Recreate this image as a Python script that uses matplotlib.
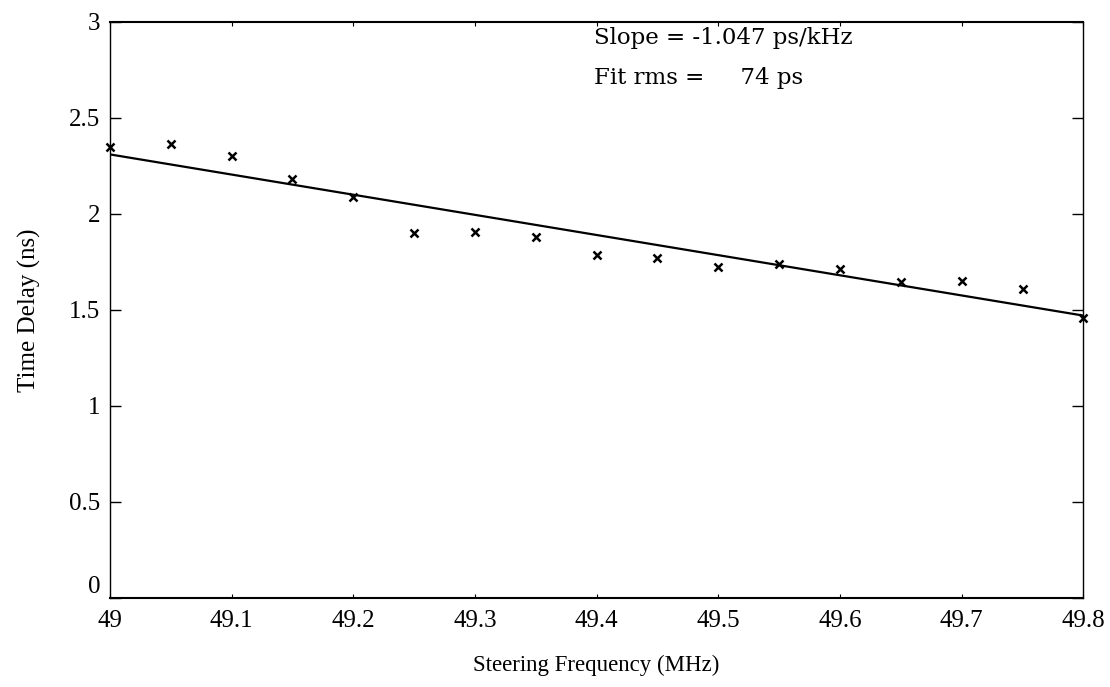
import matplotlib
matplotlib.use("Agg")
import matplotlib.pyplot as plt

plt.rcParams['font.family'] = ['Liberation Serif', 'DejaVu Serif']

# measured time delay vs steering frequency
freq = [49.0, 49.05, 49.1, 49.15, 49.2, 49.25, 49.3, 49.35, 49.4,
        49.45, 49.5, 49.55, 49.6, 49.65, 49.7, 49.75, 49.8]
delay = [2.35, 2.365, 2.30, 2.18, 2.09, 1.90, 1.905, 1.88, 1.785,
         1.77, 1.725, 1.74, 1.715, 1.645, 1.65, 1.61, 1.455]

# linear fit endpoints
fit_freq = [49.0, 49.8]
fit_delay = [2.31, 1.47]

xticks = [49, 49.1, 49.2, 49.3, 49.4, 49.5, 49.6, 49.7, 49.8]
xticklabels = ['49', '49.1', '49.2', '49.3', '49.4', '49.5', '49.6', '49.7', '49.8']
yticks = [0, 0.5, 1, 1.5, 2, 2.5, 3]
yticklabels = ['0', '0.5', '1', '1.5', '2', '2.5', '3']

fig = plt.figure(figsize=(11.1, 6.87), dpi=100)
ax = fig.add_axes([0.099, 0.130, 0.877, 0.838])

ax.plot(fit_freq, fit_delay, color='black', lw=1.6)
ax.plot(freq, delay, 'x', color='black', ms=6, mew=1.8, clip_on=False)

ax.set_xlim(49, 49.8)
ax.set_ylim(0, 3)
ax.set_xticks(xticks)
ax.set_xticklabels(xticklabels)
ax.set_yticks(yticks)
ax.set_yticklabels(yticklabels)
ax.tick_params(direction='in', top=True, right=True, labelsize=18)
ax.tick_params(axis='x', length=3, width=0.8, pad=9)
ax.tick_params(axis='y', length=8, width=1.0, pad=7)
# the zero label sits just above the axis so it clears the "49"
ax.get_yticklabels()[0].set_verticalalignment('bottom')
for side in ['top', 'bottom']:
    ax.spines[side].set_linewidth(1.5)
for side in ['left', 'right']:
    ax.spines[side].set_linewidth(1.0)

ax.set_xlabel('Steering Frequency (MHz)', fontsize=16.5, labelpad=16)
ax.set_ylabel('Time Delay (ns)', fontsize=18, labelpad=20)

ax.text(0.497, 0.972, 'Slope = -1.047 ps/kHz', transform=ax.transAxes,
        fontsize=16.5, family='DejaVu Serif', va='center', ha='left')
ax.text(0.497, 0.903, 'Fit rms =     74 ps', transform=ax.transAxes,
        fontsize=16.5, family='DejaVu Serif', va='center', ha='left')

fig.savefig('out.png', dpi=100)
